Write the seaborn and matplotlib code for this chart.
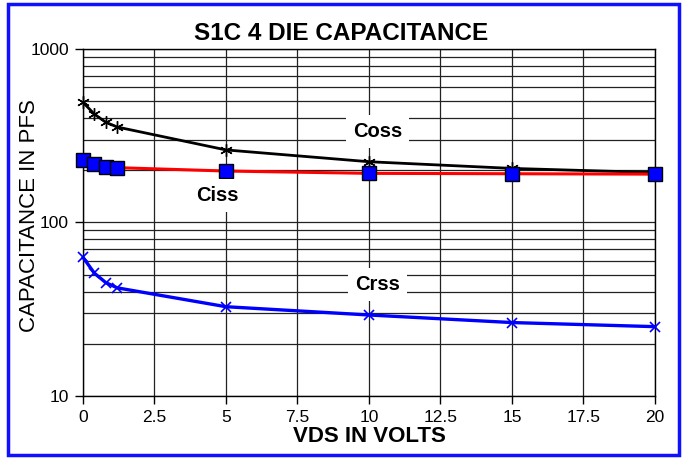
import matplotlib
matplotlib.use("Agg")
import matplotlib.pyplot as plt
from matplotlib.patches import Rectangle
from matplotlib.ticker import LogLocator, NullFormatter, FixedLocator
import seaborn as sns

# values
vds = [0, 0.4, 0.8, 1.2, 5, 10, 15, 20]
coss = [493, 421, 378, 355, 262, 224, 205, 194]
ciss = [229, 217, 210, 207, 198, 192, 191, 190]
crss = [63, 51, 45, 42, 32.7, 29.3, 26.5, 25.1]

x_ticks = [0, 2.5, 5, 7.5, 10, 12.5, 15, 17.5, 20]
x_tick_labels = ["0", "2.5", "5", "7.5", "10", "12.5", "15", "17.5", "20"]
y_ticks = [10, 100, 1000]
y_tick_labels = ["10", "100", "1000"]

sns.set_style("white")
plt.rcParams["font.family"] = ["Liberation Sans", "DejaVu Sans"]
plt.rcParams["text.color"] = "black"
plt.rcParams["axes.labelcolor"] = "black"
plt.rcParams["xtick.color"] = "black"
plt.rcParams["ytick.color"] = "black"

fig = plt.figure(figsize=(6.83, 4.58), dpi=100)
ax = fig.add_axes([0.1215, 0.1354, 0.8375, 0.7576])

# curves
sns.lineplot(x=vds, y=ciss, ax=ax, color="red", lw=2.2, marker="s", markersize=10,
             markerfacecolor="blue", markeredgecolor="black", markeredgewidth=1,
             zorder=4, clip_on=False)
sns.lineplot(x=vds, y=coss, ax=ax, color="black", lw=2.0, marker=(6, 2, 0), markersize=9,
             markeredgecolor="black", markeredgewidth=1, zorder=3, clip_on=False)
sns.lineplot(x=vds, y=crss, ax=ax, color="blue", lw=2.4, marker="x", markersize=7,
             markeredgecolor="blue", markeredgewidth=1.2, zorder=3, clip_on=False)

ax.set_yscale("log")
ax.set_ylim(10, 1000)
ax.set_xlim(0, 20)
ax.yaxis.set_major_locator(FixedLocator(y_ticks))
ax.set_yticklabels(y_tick_labels)
ax.yaxis.set_minor_locator(LogLocator(base=10, subs=range(2, 10)))
ax.yaxis.set_minor_formatter(NullFormatter())
ax.set_xticks(x_ticks)
ax.set_xticklabels(x_tick_labels)

ax.grid(which="both", axis="y", color="#222222", lw=0.9)
ax.grid(which="major", axis="x", color="#222222", lw=0.9)
ax.set_axisbelow(True)

ax.tick_params(axis="both", which="major", bottom=True, left=True, direction="out",
               length=6, width=1, color="black", labelsize=12.5, pad=4)
ax.tick_params(axis="y", which="minor", left=False, length=0)
for s in ax.spines.values():
    s.set_color("black")
    s.set_linewidth(1)

ax.set_xlabel("VDS IN VOLTS", fontsize=16, fontweight="bold", labelpad=1)
ax.set_ylabel("CAPACITANCE IN PFS", fontsize=16)
ax.yaxis.set_label_coords(-0.076, 0.52)

box = dict(facecolor="white", edgecolor="none", pad=5)
ax.text(10.3, 335, "Coss", fontsize=14.5, fontweight="bold", ha="center", va="center", bbox=box, zorder=5)
ax.text(4.7, 143, "Ciss", fontsize=14.5, fontweight="bold", ha="center", va="center", bbox=box, zorder=5)
ax.text(10.3, 44, "Crss", fontsize=14.5, fontweight="bold", ha="center", va="center", bbox=box, zorder=5)

fig.suptitle("S1C 4 DIE CAPACITANCE", fontsize=17.5, fontweight="bold", x=0.5, y=0.926, va="center")

fig.patches.append(Rectangle((0.0117, 0.0066), 0.982, 0.985, transform=fig.transFigure,
                             fill=False, edgecolor="#1010ff", lw=2.5))

fig.savefig("out.png", dpi=100)
